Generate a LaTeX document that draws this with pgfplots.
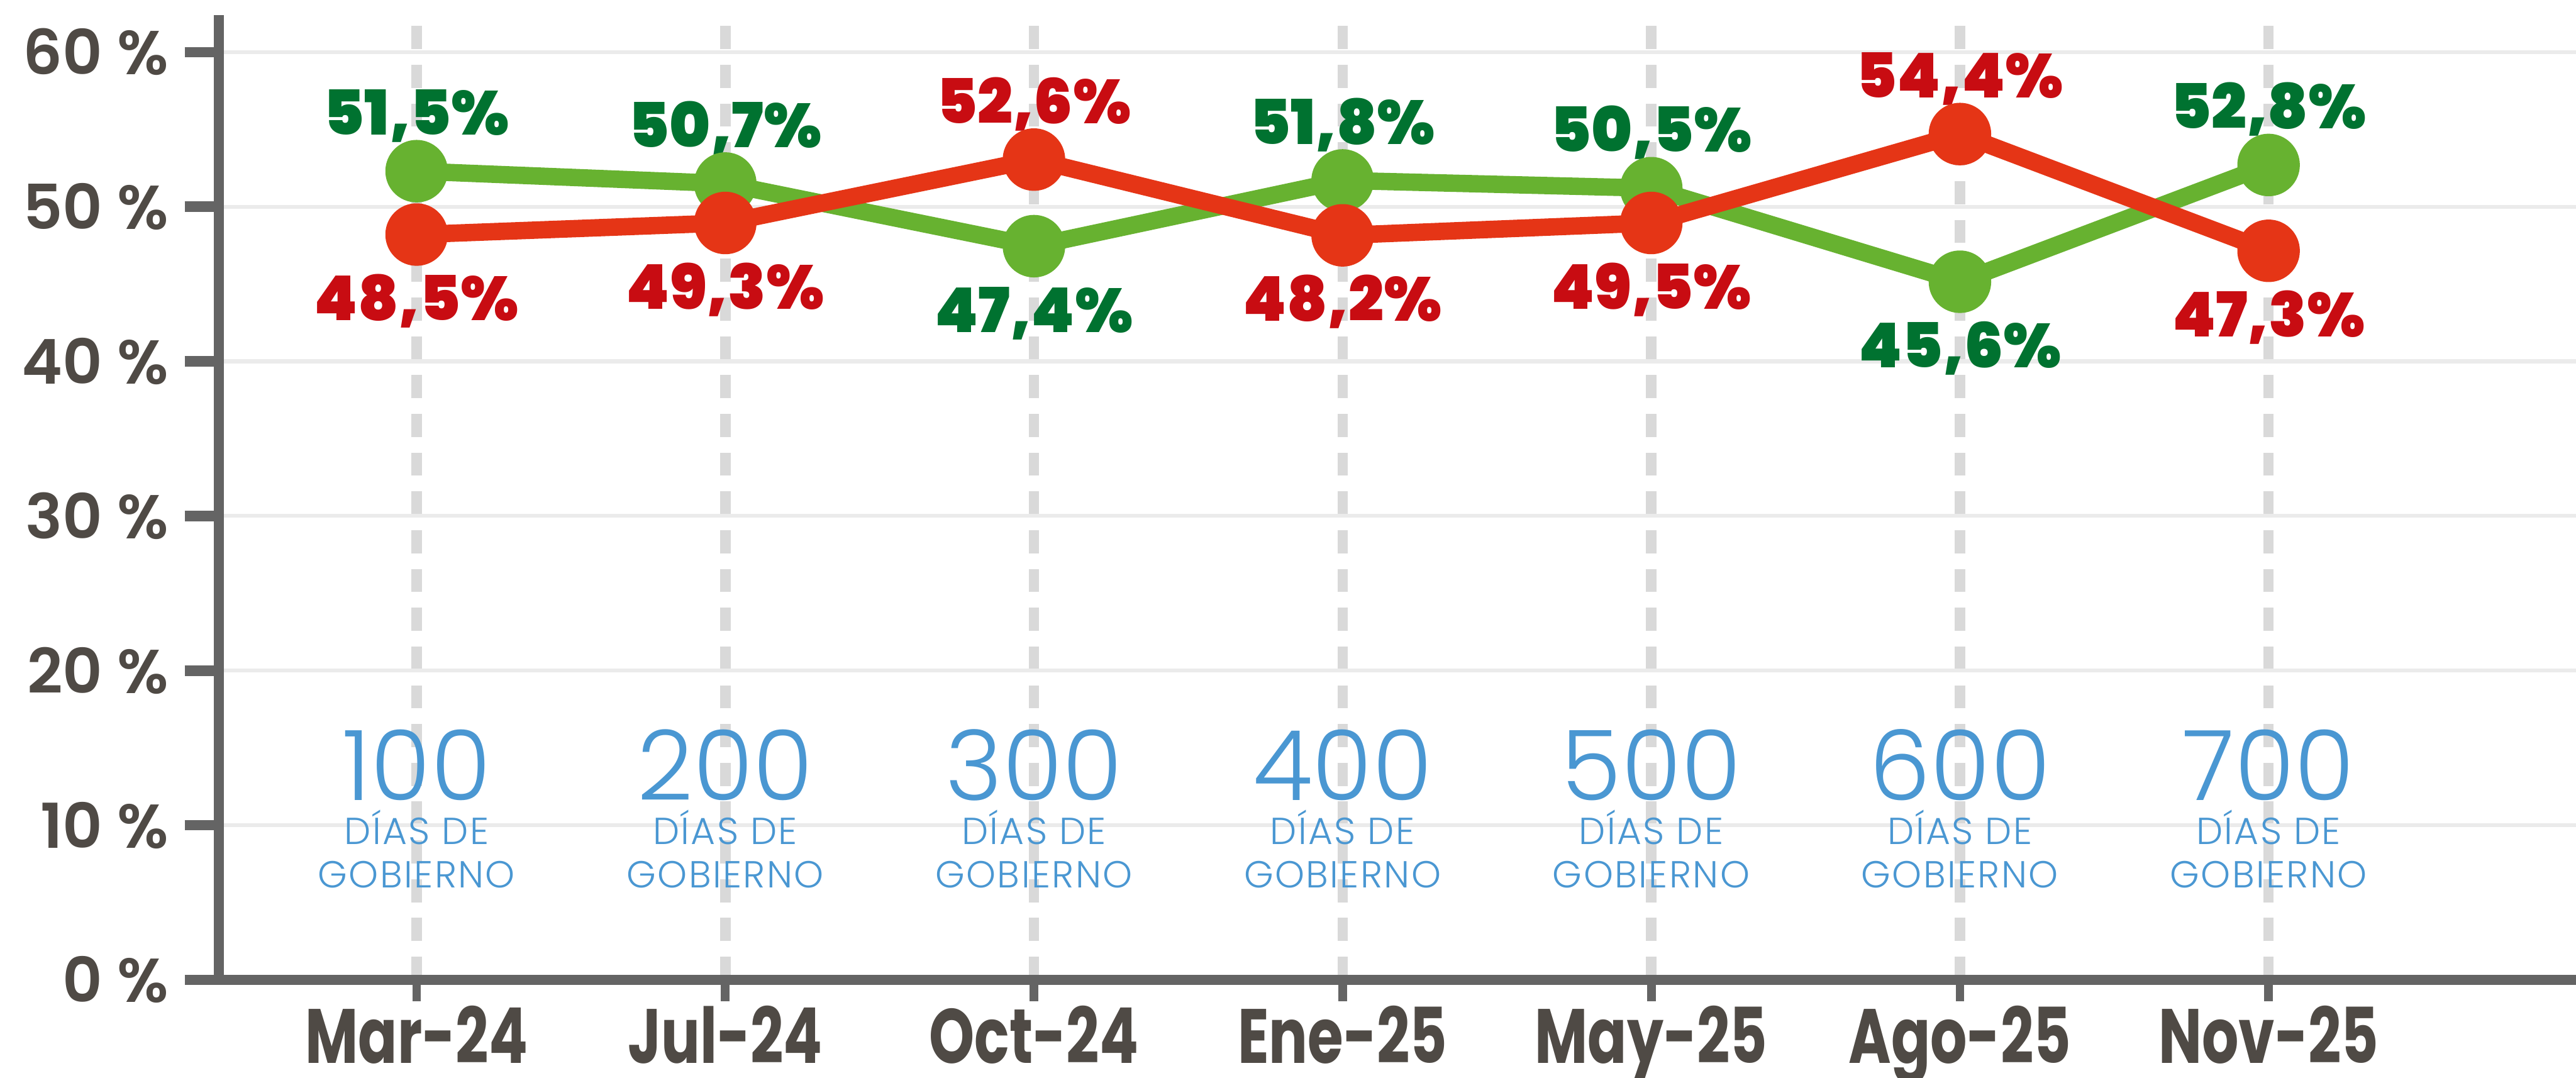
\documentclass[border=0pt]{standalone}
\usepackage{pgfplots}
\usepackage{pgfplotstable}
\pgfplotsset{compat=1.18}
\usepackage{fontspec}
\setmainfont{Poppins}
\IfFontExistsTF{Poppins Black}{\newfontfamily\fblackfam{Poppins Black}\newcommand\fblack{\fblackfam}}{\newcommand\fblack{\bfseries}}
\IfFontExistsTF{Poppins SemiBold}{\newfontfamily\fsemifam{Poppins SemiBold}\newcommand\fsemi{\fsemifam}}{\newcommand\fsemi{\bfseries}}
\IfFontExistsTF{Poppins Light}{\newfontfamily\flight{Poppins Light}\newfontfamily\flightsp{Poppins Light}[LetterSpace=4]}{\newfontfamily\flight{Poppins}\newfontfamily\flightsp{Poppins}[LetterSpace=4]}
\IfFontExistsTF{Poppins Bold}{\newfontfamily\fnarrow{Poppins Bold}[FakeStretch=0.75]}{\newfontfamily\fnarrow{Poppins}[FakeStretch=0.75, FakeBold=1.5]}

\definecolor{axisgray}{HTML}{646464}
\definecolor{tickgray}{HTML}{4F4A45}
\definecolor{gridgray}{HTML}{EBEBEB}
\definecolor{dashgray}{HTML}{D9D9D9}
\definecolor{lgreen}{HTML}{67B230}
\definecolor{lred}{HTML}{E53516}
\definecolor{tgreen}{HTML}{007230}
\definecolor{tred}{HTML}{C80C12}
\definecolor{tblue}{HTML}{4A97D2}

\pgfplotstableread{
x green red
0 52.3 48.2
1 51.5 48.95
2 47.45 53.05
3 51.7 48.15
4 51.2 48.95
5 45.15 54.7
6 52.7 47.15
}\datatable

\tikzset{
  labA/.style={anchor=base, yshift=6.25pt, font=\fblack\fontsize{10.7}{12}\selectfont},
  labB/.style={anchor=base, yshift=-14.85pt, font=\fblack\fontsize{10.7}{12}\selectfont},
  dnum/.style={anchor=base, text=tblue, inner sep=0pt, font=\flight\fontsize{16.8}{18}\selectfont},
  dtxt/.style={anchor=base, text=tblue, inner sep=0pt, font=\flightsp\fontsize{6.5}{7}\selectfont},
}

\begin{document}
\begin{tikzpicture}
\useasboundingbox (0,0) rectangle (445.1pt,186.2pt);
\begin{axis}[
  at={(37.8pt,16.9pt)}, anchor=south west,
  scale only axis, width=407.3pt, height=166.7pt,
  xmin=-0.641, xmax=6.996, ymin=0, ymax=62.4,
  clip=false,
  axis x line*=bottom, axis y line*=left,
  axis line style={-, line width=1.8pt, axisgray},
  tick align=outside,
  major tick length=5.9pt,
  xtick={0,...,6},
  xticklabels={Mar-24,Jul-24,Oct-24,Ene-25,May-25,Ago-25,Nov-25},
  ytick={0,10,...,60},
  yticklabels={0 \%,10 \%,20 \%,30 \%,40 \%,50 \%,60 \%},
  minor tick num=0,
  ytick style={axisgray, line width=1.8pt},
  xtick style={axisgray, line width=1.5pt, /pgfplots/major tick length=3.7pt},
  yticklabel style={text=tickgray, xshift=0.8pt, font=\fsemi\fontsize{10.7}{12}\selectfont},
  xticklabel style={text=tickgray, font=\fnarrow\fontsize{13.3}{15}\selectfont, yshift=5pt},
  ymajorgrids, xmajorgrids,
  y grid style={gridgray, line width=0.67pt},
  x grid style={dashgray, line width=1.8pt, dash pattern=on 4pt off 2.7pt},
]
\addplot[lgreen, line width=3pt, line join=round, mark=*, mark size=3.9pt,
  mark options={fill=lgreen, draw=none, solid}] table[x=x, y=green]{\datatable};
\addplot[lred, line width=3pt, line join=round, mark=*, mark size=3.9pt,
  mark options={fill=lred, draw=none, solid}] table[x=x, y=red]{\datatable};

% green labels
\node[labA, text=tgreen] at (axis cs:0,52.3) {51,5\%};
\node[labA, text=tgreen] at (axis cs:1,51.5) {50,7\%};
\node[labB, text=tgreen] at (axis cs:2,47.45) {47,4\%};
\node[labA, text=tgreen] at (axis cs:3,51.7) {51,8\%};
\node[labA, text=tgreen] at (axis cs:4,51.2) {50,5\%};
\node[labB, text=tgreen] at (axis cs:5,45.15) {45,6\%};
\node[labA, text=tgreen] at (axis cs:6,52.7) {52,8\%};
% red labels
\node[labB, text=tred] at (axis cs:0,48.2) {48,5\%};
\node[labB, text=tred] at (axis cs:1,48.95) {49,3\%};
\node[labA, text=tred] at (axis cs:2,53.05) {52,6\%};
\node[labB, text=tred] at (axis cs:3,48.15) {48,2\%};
\node[labB, text=tred] at (axis cs:4,48.95) {49,5\%};
\node[labA, text=tred] at (axis cs:5,54.7) {54,4\%};
\node[labB, text=tred] at (axis cs:6,47.15) {47,3\%};

% days labels
\node[dnum] at (axis cs:0,11.63) {100};
\node[dnum] at (axis cs:1,11.63) {200};
\node[dnum] at (axis cs:2,11.63) {300};
\node[dnum] at (axis cs:3,11.63) {400};
\node[dnum] at (axis cs:4,11.63) {500};
\node[dnum] at (axis cs:5,11.63) {600};
\node[dnum] at (axis cs:6,11.63) {700};
\node[dtxt] at (axis cs:0,8.75) {DÍAS DE};
\node[dtxt] at (axis cs:1,8.75) {DÍAS DE};
\node[dtxt] at (axis cs:2,8.75) {DÍAS DE};
\node[dtxt] at (axis cs:3,8.75) {DÍAS DE};
\node[dtxt] at (axis cs:4,8.75) {DÍAS DE};
\node[dtxt] at (axis cs:5,8.75) {DÍAS DE};
\node[dtxt] at (axis cs:6,8.75) {DÍAS DE};
\node[dtxt] at (axis cs:0,5.95) {GOBIERNO};
\node[dtxt] at (axis cs:1,5.95) {GOBIERNO};
\node[dtxt] at (axis cs:2,5.95) {GOBIERNO};
\node[dtxt] at (axis cs:3,5.95) {GOBIERNO};
\node[dtxt] at (axis cs:4,5.95) {GOBIERNO};
\node[dtxt] at (axis cs:5,5.95) {GOBIERNO};
\node[dtxt] at (axis cs:6,5.95) {GOBIERNO};
\end{axis}
\end{tikzpicture}
\end{document}
